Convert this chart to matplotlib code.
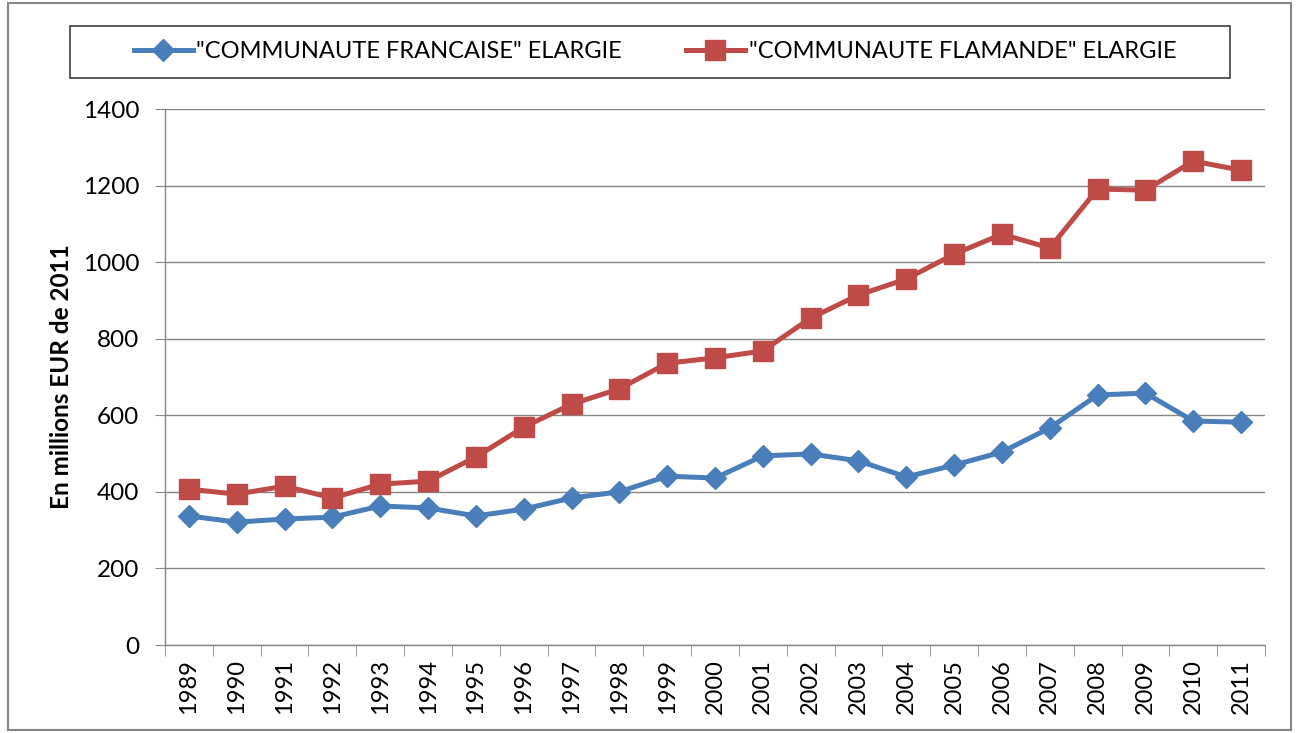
import matplotlib
matplotlib.use("Agg")
import matplotlib.pyplot as plt
from matplotlib.patches import Rectangle
import numpy as np

years = [str(y) for y in range(1989, 2012)]
francaise = [337, 321, 329, 334, 363, 358, 337, 355, 384, 400, 441, 436, 494, 499,
             481, 439, 470, 504, 567, 653, 658, 585, 582]
flamande = [407, 394, 415, 384, 420, 428, 491, 569, 629, 669, 736, 750, 768, 854,
            914, 956, 1021, 1073, 1037, 1191, 1188, 1264, 1240]
label_fr = '"COMMUNAUTE FRANCAISE" ELARGIE'
label_fl = '"COMMUNAUTE FLAMANDE" ELARGIE'
yticks = [0, 200, 400, 600, 800, 1000, 1200, 1400]

plt.rcParams['font.family'] = ['Lato', 'DejaVu Sans']

W, H = 1297, 733
fig = plt.figure(figsize=(W / 100, H / 100), dpi=100)
ax = fig.add_axes([165 / W, (H - 645) / H, 1100 / W, 536 / H])

x = np.arange(len(years))
blue = '#4A7EBB'
red = '#BE4B48'
l1, = ax.plot(x, francaise, color=blue, lw=3.6, marker='D', ms=11.5, mec=blue, mfc=blue,
              label=label_fr, zorder=3)
l2, = ax.plot(x, flamande, color=red, lw=3.6, marker='s', ms=15, mec=red, mfc=red,
              label=label_fl, zorder=3)

ax.set_xlim(-0.5, len(years) - 0.5)
ax.set_ylim(0, 1400)
ax.set_yticks(yticks)
ax.set_yticklabels([str(v) for v in yticks], fontsize=17.5)
ax.set_xticks(x)
ax.set_xticklabels(years, rotation=90, fontsize=17)
ax.set_xticks(np.arange(-0.5, len(years), 1), minor=True)
ax.tick_params(axis='x', which='major', length=0, pad=10)
ax.tick_params(axis='x', which='minor', length=8, color='#868686', direction='out')
ax.tick_params(axis='y', length=7, color='#868686', direction='out', pad=11.5)
ax.grid(axis='y', color='#868686', lw=1)
ax.set_axisbelow(True)
for s in ['top', 'right']:
    ax.spines[s].set_visible(False)
for s in ['left', 'bottom']:
    ax.spines[s].set_color('#868686')
    ax.spines[s].set_linewidth(1)

fig.text(62 / W, (H - 377) / H, 'En millions EUR de 2011', rotation=90, fontsize=17.5,
         fontweight='bold', ha='center', va='center')

# legend box
fig.patches.append(Rectangle((70 / W, (H - 78) / H), (1230 - 70) / W, 52 / H,
                             transform=fig.transFigure, fill=False,
                             edgecolor='#404040', lw=1.2))
leg = fig.legend(handles=[l1, l2], loc='center', bbox_to_anchor=(655 / W, (H - 52) / H),
                 ncol=2, fontsize=17, frameon=False,
                 handlelength=2.5, handletextpad=0.15, columnspacing=2.7,
                 borderpad=0.0)

fig.patches.append(Rectangle((8 / W, 3 / H), (1291 - 8) / W, (H - 6) / H,
                             transform=fig.transFigure, fill=False,
                             edgecolor='#868686', lw=1.5))

fig.savefig('out.png', dpi=100)
